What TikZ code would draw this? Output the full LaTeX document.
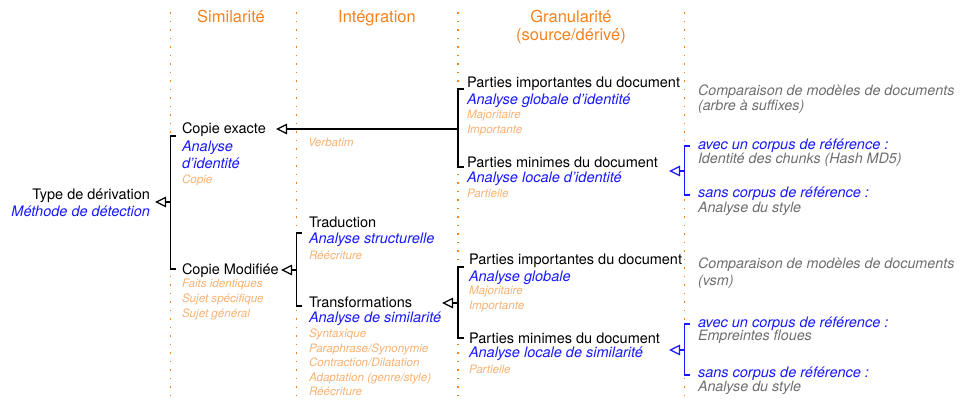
\documentclass[tikz,border=0pt]{standalone}
\usepackage{fontspec}
\setmainfont{TeX Gyre Heros}
\usetikzlibrary{arrows.meta}
\definecolor{hdrorange}{RGB}{245,130,30}
\definecolor{peach}{RGB}{248,178,115}
\definecolor{mblue}{RGB}{25,25,255}
\definecolor{mgray}{RGB}{110,110,110}
\begin{document}
\begin{tikzpicture}[x=1pt,y=-1pt,
  every node/.style={inner sep=0pt, outer sep=0pt, anchor=base west},
  main/.style={font=\fontsize{14.5}{17}\selectfont, text=black},
  meth/.style={font=\fontsize{14.5}{17}\selectfont\itshape, text=mblue},
  sub/.style={font=\fontsize{11.6}{13}\selectfont\itshape, text=peach},
  note/.style={font=\fontsize{14.3}{17}\selectfont\itshape, text=mgray},
  hdr/.style={font=\fontsize{16.5}{19}\selectfont, text=hdrorange, anchor=base},
  sep/.style={draw=hdrorange, line width=1.7pt, dash pattern=on 1.7pt off 6.8pt},
  brk/.style={draw=black, line width=1.2pt},
  bbrk/.style={draw=mblue, line width=1.2pt},
  arr/.style={draw=black, line width=1.2pt, -{Triangle[open, length=11pt, width=10.5pt]}},
  barr/.style={draw=mblue, line width=1.2pt, -{Triangle[open, length=11pt, width=10.5pt]}},
]
\useasboundingbox (0,0) rectangle (963,399);

% column separators
\draw[sep] (170.5,12) -- (170.5,397);
\draw[sep] (296.5,12) -- (296.5,397);
\draw[sep] (458,12) -- (458,397);
\draw[sep] (684.5,12) -- (684.5,397);

% headers
\node[hdr] (h1) at (231,22) {Similarité};
\node[hdr] (h2) at (377,22) {Intégration};
\node[hdr] (h3) at (571,22) {Granularité};
\node[hdr] (h3b) at (571,40) {(source/dérivé)};

% left
\node[main, anchor=base east] (typ) at (150,199) {Type de dérivation};
\node[meth, anchor=base east] (met) at (150,216) {Méthode de détection};

% column 2
\node[main] (ce) at (182,133) {Copie exacte};
\node[meth] (ce1) at (182,151) {Analyse};
\node[meth] (ce2) at (182,168) {d'identité};
\node[sub] (ce3) at (182,183) {Copie};
\node[main] (cm) at (182,274) {Copie Modifiée};
\node[sub] (cm1) at (182,287) {Faits identiques};
\node[sub] (cm2) at (182,302) {Sujet spécifique};
\node[sub] (cm3) at (182,317) {Sujet général};

% column 3
\node[sub] (vb) at (308,146) {Verbatim};
\node[main] (tr) at (309,227) {Traduction};
\node[meth] (tr1) at (309,243) {Analyse structurelle};
\node[sub] (tr2) at (309,259) {Réécriture};
\node[main] (tf) at (309,307) {Transformations};
\node[meth] (tf1) at (309,322) {Analyse de similarité};
\node[sub] (tf2) at (309,337) {Syntaxique};
\node[sub] (tf3) at (309,352) {Paraphrase/Synonymie};
\node[sub] (tf4) at (309,366) {Contraction/Dilatation};
\node[sub] (tf5) at (309,381) {Adaptation (genre/style)};
\node[sub] (tf6) at (309,395) {Réécriture};

% column 4 upper
\node[main] (pi) at (467,87) {Parties importantes du document};
\node[meth] (pi1) at (467,104) {Analyse globale d'identité};
\node[sub] (pi2) at (467,118) {Majoritaire};
\node[sub] (pi3) at (467,133) {Importante};
\node[main] (pm) at (467,167) {Parties minimes du document};
\node[meth] (pm1) at (467,182) {Analyse locale d'identité};
\node[sub] (pm2) at (467,197) {Partielle};

% column 4 lower
\node[main] (qi) at (469,264) {Parties importantes du document};
\node[meth] (qi1) at (469,281) {Analyse globale};
\node[sub] (qi2) at (469,294) {Majoritaire};
\node[sub] (qi3) at (469,309) {Importante};
\node[main] (qm) at (469,343) {Parties minimes du document};
\node[meth] (qm1) at (469,357) {Analyse locale de similarité};
\node[sub] (qm2) at (469,373) {Partielle};

% column 5 upper
\node[note] (r1) at (698,95) {Comparaison de modèles de documents};
\node[note] (r2) at (698,110) {(arbre à suffixes)};
\node[meth] (r3) at (698,149) {avec un corpus de référence :};
\node[note] (r4) at (698,163) {Identité des chunks (Hash MD5)};
\node[meth] (r5) at (698,197) {sans corpus de référence :};
\node[note] (r6) at (698,212) {Analyse du style};

% column 5 lower
\node[note] (s1) at (698,268) {Comparaison de modèles de documents};
\node[note] (s2) at (698,285) {(vsm)};
\node[meth] (s3) at (698,327) {avec un corpus de référence :};
\node[note] (s4) at (698,340) {Empreintes floues};
\node[meth] (s5) at (698,377) {sans corpus de référence :};
\node[note] (s6) at (698,391) {Analyse du style};

% brackets
\draw[brk] (175.5,136) -- (170.5,136) -- (170.5,269) -- (175.5,269);
\draw[brk] (302,233) -- (296.5,233) -- (296.5,306) -- (302,306);
\draw[brk] (464,89) -- (458,89) -- (458,167) -- (464,167);
\draw[brk] (464,267) -- (458,267) -- (458,338) -- (464,338);
\draw[bbrk] (689.5,146) -- (684.5,146) -- (684.5,195) -- (689.5,195);
\draw[bbrk] (689.5,324) -- (684.5,324) -- (684.5,375) -- (689.5,375);

% bracket midpoints and arrow targets
\coordinate (b1) at (170.5,202);
\coordinate (t1) at (155,202);
\coordinate (b2) at (296.5,270);
\coordinate (t2) at (281,270);
\coordinate (b3) at (458,129);
\coordinate (t3) at (276,129);
\coordinate (b4) at (458,303);
\coordinate (t4) at (442,303);
\coordinate (b5) at (684.5,171);
\coordinate (t5) at (669,171);
\coordinate (b6) at (684.5,350);
\coordinate (t6) at (669,350);

\draw[arr] (b1) -- (t1);
\draw[arr] (b2) -- (t2);
\draw[arr] (b3) -- (t3);
\draw[arr] (b4) -- (t4);
\draw[barr] (b5) -- (t5);
\draw[barr] (b6) -- (t6);
\end{tikzpicture}
\end{document}
